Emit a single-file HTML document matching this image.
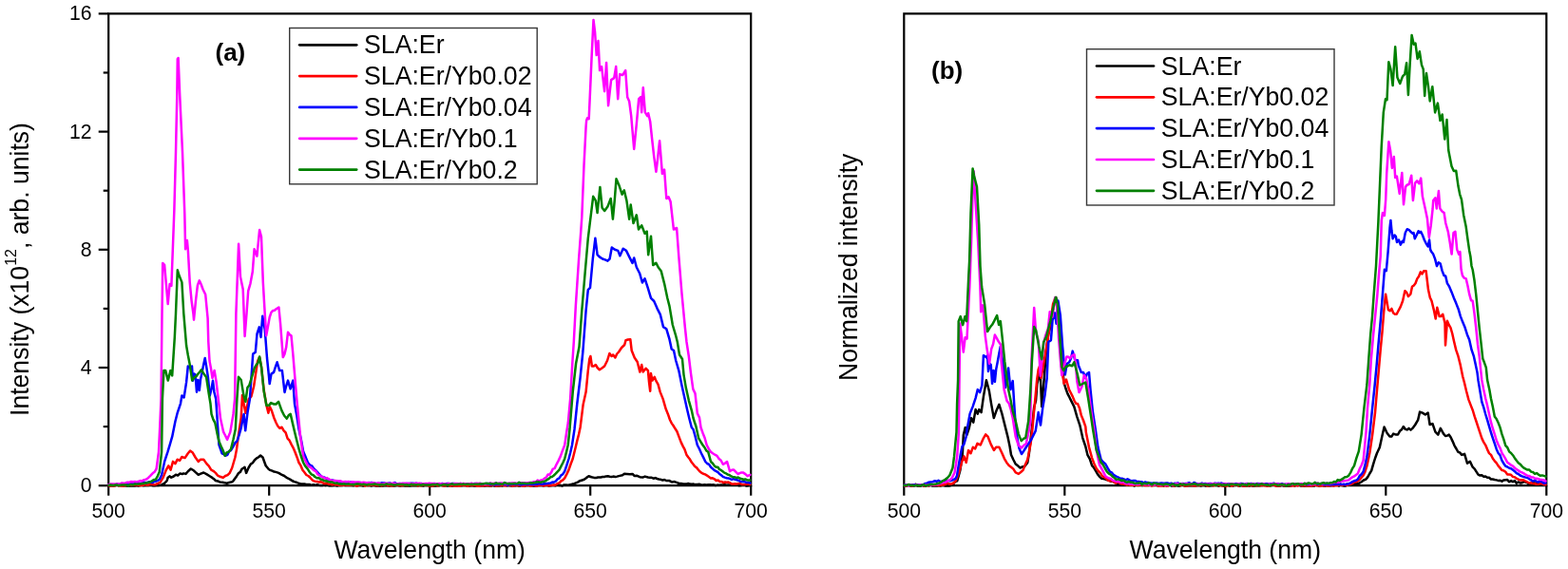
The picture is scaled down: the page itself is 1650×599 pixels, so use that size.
<!DOCTYPE html>
<html><head><meta charset="utf-8"><title>Spectra</title>
<style>
html,body{margin:0;padding:0;background:#fff;}
body{width:1650px;height:599px;overflow:hidden;}
svg{display:block;}
text{font-family:"Liberation Sans", Arial, sans-serif;fill:#000;}
.tl{font-size:21.2px;}
.at{font-size:26.6px;}
.sup{font-size:16px;}
.lt{font-size:26.7px;}
.pl{font-size:26px;font-weight:bold;}
.ax{fill:none;stroke:#000;stroke-width:2.2;stroke-linecap:butt;stroke-linejoin:miter;}
.c{fill:none;stroke-width:2.5;stroke-linejoin:round;stroke-linecap:round;}
.lg{fill:none;stroke-width:2.7;stroke-linecap:round;}
</style></head>
<body>
<svg width="1650" height="599" viewBox="0 0 1650 599">
<path class="ax" d="M114.2,511.2 H790.2 V14.4 H114.2 Z"/>
<path class="ax" d="M114.2,511.2 V521.7"/>
<text class="tl" transform="translate(114.2,545.3) scale(1,1.04)" text-anchor="middle">500</text>
<path class="ax" d="M283.2,511.2 V521.7"/>
<text class="tl" transform="translate(283.2,545.3) scale(1,1.04)" text-anchor="middle">550</text>
<path class="ax" d="M452.2,511.2 V521.7"/>
<text class="tl" transform="translate(452.2,545.3) scale(1,1.04)" text-anchor="middle">600</text>
<path class="ax" d="M621.2,511.2 V521.7"/>
<text class="tl" transform="translate(621.2,545.3) scale(1,1.04)" text-anchor="middle">650</text>
<path class="ax" d="M790.2,511.2 V521.7"/>
<text class="tl" transform="translate(790.2,545.3) scale(1,1.04)" text-anchor="middle">700</text>
<path class="ax" d="M103.7,511.2 H114.2"/>
<text class="tl" transform="translate(96.6,518.2) scale(1,1.04)" text-anchor="end">0</text>
<path class="ax" d="M108.7,449.1 H114.2"/>
<path class="ax" d="M103.7,387.0 H114.2"/>
<text class="tl" transform="translate(96.6,394.0) scale(1,1.04)" text-anchor="end">4</text>
<path class="ax" d="M108.7,324.9 H114.2"/>
<path class="ax" d="M103.7,262.8 H114.2"/>
<text class="tl" transform="translate(96.6,269.8) scale(1,1.04)" text-anchor="end">8</text>
<path class="ax" d="M108.7,200.7 H114.2"/>
<path class="ax" d="M103.7,138.6 H114.2"/>
<text class="tl" transform="translate(96.6,145.6) scale(1,1.04)" text-anchor="end">12</text>
<path class="ax" d="M108.7,76.5 H114.2"/>
<path class="ax" d="M103.7,14.4 H114.2"/>
<text class="tl" transform="translate(96.6,21.4) scale(1,1.04)" text-anchor="end">16</text>
<text class="at" transform="translate(452.2,587.6) scale(1,1.04)" text-anchor="middle">Wavelength (nm)</text>
<path class="ax" d="M951.3,511.2 H1627.3 V14.4 H951.3 Z"/>
<path class="ax" d="M951.3,511.2 V521.7"/>
<text class="tl" transform="translate(951.3,545.3) scale(1,1.04)" text-anchor="middle">500</text>
<path class="ax" d="M1120.3,511.2 V521.7"/>
<text class="tl" transform="translate(1120.3,545.3) scale(1,1.04)" text-anchor="middle">550</text>
<path class="ax" d="M1289.3,511.2 V521.7"/>
<text class="tl" transform="translate(1289.3,545.3) scale(1,1.04)" text-anchor="middle">600</text>
<path class="ax" d="M1458.3,511.2 V521.7"/>
<text class="tl" transform="translate(1458.3,545.3) scale(1,1.04)" text-anchor="middle">650</text>
<path class="ax" d="M1627.3,511.2 V521.7"/>
<text class="tl" transform="translate(1627.3,545.3) scale(1,1.04)" text-anchor="middle">700</text>
<text class="at" transform="translate(1289.3,587.6) scale(1,1.04)" text-anchor="middle">Wavelength (nm)</text>
<path class="c" stroke="#000" d="M114.2,511.2 L115.9,511.0 L117.7,511.3 L119.4,511.2 L121.2,511.1 L122.9,510.6 L124.6,510.9 L126.4,511.0 L128.1,510.7 L129.9,511.2 L131.6,511.0 L133.3,511.5 L135.1,511.5 L136.8,511.4 L138.5,511.4 L140.3,511.5 L142.0,511.4 L143.8,511.1 L145.5,511.4 L147.2,511.1 L149.0,510.5 L150.7,511.2 L152.5,511.0 L154.2,510.8 L155.9,511.1 L157.7,510.8 L159.4,510.8 L161.2,511.2 L162.9,511.2 L164.7,510.8 L166.5,511.0 L168.4,510.7 L170.2,510.4 L173.3,508.6 L175.7,506.0 L176.7,502.7 L178.7,501.4 L180.2,502.7 L182.7,501.5 L185.0,499.8 L187.2,500.5 L189.5,498.4 L191.7,499.1 L193.2,498.4 L195.5,498.9 L197.8,496.2 L200.8,493.5 L203.8,495.3 L206.0,497.4 L208.7,499.8 L211.3,498.6 L214.3,497.5 L217.3,499.1 L220.3,501.0 L223.3,502.9 L225.5,504.6 L226.9,506.0 L229.2,506.4 L231.6,507.6 L234.0,507.7 L236.4,508.2 L238.8,508.7 L241.1,508.0 L244.2,507.3 L245.8,505.8 L247.4,503.5 L248.9,501.4 L251.1,498.0 L252.9,496.9 L254.3,494.0 L257.5,491.8 L259.1,497.9 L261.5,492.5 L263.8,488.6 L265.9,487.3 L268.0,484.3 L270.1,482.4 L272.1,481.2 L274.1,479.5 L276.5,481.5 L279.7,490.2 L282.8,494.0 L284.2,494.8 L286.4,495.7 L288.3,496.5 L290.2,496.9 L293.2,497.9 L296.2,499.6 L299.2,501.0 L302.2,503.2 L305.2,504.6 L307.3,506.0 L309.6,507.1 L312.0,507.8 L314.1,508.6 L316.2,509.2 L318.3,509.4 L320.3,509.5 L322.2,510.0 L324.2,510.1 L326.2,510.1 L328.1,510.8 L330.0,510.2 L331.8,510.8 L333.7,510.1 L335.6,510.7 L337.4,511.0 L339.1,511.0 L340.9,510.6 L342.6,511.0 L344.4,510.4 L346.1,511.2 L347.9,511.1 L349.6,511.3 L351.4,511.1 L353.1,511.1 L354.8,511.4 L356.5,511.1 L358.2,511.1 L359.9,511.1 L361.6,510.5 L363.4,511.1 L365.1,511.1 L366.8,511.1 L368.5,510.7 L370.2,511.0 L371.9,511.3 L373.6,510.6 L375.3,511.5 L377.0,511.1 L378.7,511.1 L380.4,511.1 L382.1,511.5 L383.9,510.8 L385.6,510.7 L387.3,511.1 L389.0,510.8 L390.7,511.5 L392.4,511.1 L394.1,511.1 L395.8,511.5 L397.5,511.5 L399.2,511.3 L400.9,511.5 L402.6,511.5 L404.4,511.2 L406.1,511.3 L407.8,511.1 L409.5,511.5 L411.2,511.3 L412.9,511.2 L414.6,511.4 L416.3,511.3 L418.0,510.8 L419.7,511.3 L421.4,511.5 L423.1,511.1 L424.8,511.2 L426.5,511.5 L428.2,511.3 L429.9,511.5 L431.6,511.4 L433.4,511.3 L435.1,511.2 L436.8,511.2 L438.5,511.0 L440.2,511.3 L441.9,511.1 L443.6,511.1 L445.3,511.4 L447.0,511.1 L448.7,510.9 L450.4,510.9 L452.1,511.0 L453.8,511.5 L455.5,511.5 L457.2,511.4 L458.9,511.4 L460.6,511.1 L462.3,511.2 L464.0,510.5 L465.7,510.9 L467.4,511.2 L469.1,510.9 L470.9,511.5 L472.6,511.0 L474.3,511.3 L476.0,511.5 L477.7,511.1 L479.4,510.9 L481.1,511.2 L482.8,510.7 L484.5,511.2 L486.2,511.3 L487.9,510.9 L489.6,511.0 L491.3,511.4 L493.0,511.3 L494.7,511.4 L496.4,511.0 L498.1,511.4 L499.8,511.3 L501.5,511.4 L503.2,511.0 L504.9,511.5 L506.6,511.3 L508.4,511.3 L510.1,511.5 L511.8,511.3 L513.5,511.1 L515.2,511.5 L516.9,511.5 L518.6,510.9 L520.3,511.5 L522.0,511.5 L523.7,511.5 L525.4,511.5 L527.1,511.1 L528.8,511.4 L530.5,510.6 L532.2,510.7 L533.9,511.3 L535.6,510.9 L537.3,511.2 L539.0,511.5 L540.7,511.0 L542.4,511.3 L544.1,510.9 L545.9,511.5 L547.6,511.4 L549.3,510.9 L551.0,511.2 L552.7,511.4 L554.4,510.9 L556.1,510.9 L557.8,511.3 L559.5,511.1 L561.2,511.5 L562.9,511.2 L564.7,511.5 L566.5,510.9 L568.3,510.8 L570.0,511.0 L571.8,511.4 L573.6,510.8 L575.4,510.9 L577.2,511.4 L579.0,511.3 L580.8,511.0 L582.5,510.7 L584.3,511.3 L586.1,510.4 L587.9,510.9 L589.8,510.8 L591.7,511.5 L593.6,510.4 L595.5,510.6 L597.9,510.8 L600.3,510.1 L602.2,509.6 L604.2,509.2 L606.1,508.4 L608.0,507.6 L609.9,506.3 L611.9,505.7 L614.7,504.8 L617.2,502.9 L619.5,501.3 L622.4,502.3 L625.3,502.9 L627.2,503.1 L629.1,502.5 L632.0,502.6 L633.9,502.0 L635.9,502.0 L637.8,501.4 L639.7,501.2 L641.6,501.7 L643.5,502.0 L645.4,501.6 L647.4,502.0 L649.3,501.6 L652.2,500.9 L655.0,500.2 L657.0,498.8 L659.8,498.9 L662.7,499.2 L665.6,498.9 L667.5,500.9 L670.4,500.8 L673.3,502.2 L676.2,502.6 L678.7,501.6 L681.9,502.5 L683.9,502.8 L685.8,502.8 L687.7,503.7 L689.6,503.1 L691.5,504.0 L693.4,504.5 L695.4,504.8 L697.3,505.6 L699.2,505.0 L701.1,506.0 L704.0,505.9 L706.9,507.4 L709.8,507.1 L712.6,508.1 L714.5,509.0 L716.5,508.9 L718.4,509.3 L720.3,509.5 L722.2,509.6 L724.2,509.0 L726.1,509.6 L728.0,509.8 L729.9,509.6 L731.8,510.1 L733.7,510.0 L735.7,509.7 L737.6,510.3 L739.5,510.4 L741.5,510.3 L743.4,510.4 L745.3,510.3 L747.2,510.3 L749.1,510.6 L751.1,510.3 L753.0,511.0 L754.9,510.6 L756.8,510.8 L758.7,510.5 L760.7,510.4 L762.6,510.1 L764.5,510.7 L766.4,510.4 L768.3,510.4 L770.3,510.8 L772.2,510.7 L774.1,510.7 L776.0,510.5 L777.9,511.3 L779.8,511.0 L781.8,510.4 L783.7,510.6 L785.6,511.5 L787.5,511.3 L789.4,510.9"/>
<path class="c" stroke="#ff0000" d="M114.2,511.1 L115.9,511.5 L117.7,511.1 L119.4,511.5 L121.2,511.2 L122.9,510.5 L124.7,511.2 L126.4,511.2 L128.2,511.5 L129.9,511.5 L131.7,510.9 L133.4,510.9 L135.2,510.4 L136.9,510.5 L138.7,510.9 L140.4,510.4 L142.2,510.5 L143.9,510.6 L145.7,510.7 L147.4,511.0 L149.2,511.1 L150.9,510.8 L152.7,509.6 L154.4,510.6 L156.3,510.5 L158.2,509.8 L160.1,509.9 L162.0,510.4 L163.9,510.0 L166.2,508.9 L168.6,507.8 L171.8,502.3 L174.9,494.6 L177.3,490.3 L179.6,494.6 L182.0,485.9 L184.4,488.1 L186.7,483.7 L189.1,484.8 L191.4,481.0 L194.6,482.1 L197.8,477.3 L200.1,474.6 L202.5,476.2 L205.6,481.5 L208.8,485.9 L211.1,483.7 L214.3,483.7 L217.4,488.1 L219.8,490.7 L222.2,494.6 L224.5,495.8 L226.9,497.9 L229.2,500.7 L231.6,501.8 L234.8,502.9 L237.1,501.0 L239.5,500.1 L241.8,497.8 L244.2,492.5 L247.4,481.5 L249.0,473.0 L250.3,462.8 L251.9,451.6 L253.7,440.0 L255.0,416.1 L256.4,424.1 L258.4,434.8 L261.7,420.1 L264.4,417.4 L267.1,406.8 L269.1,393.4 L271.1,380.0 L273.1,376.0 L275.1,386.7 L277.7,410.8 L280.4,426.8 L282.4,434.8 L283.8,428.1 L285.8,432.1 L288.4,440.0 L290.4,444.8 L292.3,448.5 L294.4,450.8 L296.5,449.7 L298.6,453.3 L300.6,455.4 L302.6,461.7 L304.5,463.5 L306.5,467.6 L308.5,471.3 L310.5,476.0 L312.5,481.2 L314.5,487.0 L316.5,490.2 L318.4,494.8 L320.4,497.3 L322.4,500.0 L324.4,501.0 L326.4,502.8 L328.3,505.0 L330.3,506.4 L332.1,506.8 L333.8,507.0 L335.6,507.5 L337.4,507.3 L339.1,507.8 L340.9,509.0 L342.7,508.7 L344.4,509.1 L346.2,509.7 L347.9,509.6 L349.6,510.4 L351.4,509.9 L353.1,510.4 L354.8,510.0 L356.6,510.8 L358.3,510.9 L360.0,510.5 L361.7,510.8 L363.5,510.4 L365.2,510.7 L366.9,510.6 L368.7,510.7 L370.4,510.5 L372.1,510.4 L373.8,511.0 L375.6,511.5 L377.3,510.9 L379.0,510.2 L380.8,510.7 L382.5,510.3 L384.2,511.5 L386.0,510.8 L387.7,510.9 L389.4,510.6 L391.2,510.7 L392.9,510.6 L394.6,510.3 L396.3,511.1 L398.1,511.2 L399.8,510.5 L401.5,511.4 L403.3,510.5 L405.0,510.6 L406.7,510.0 L408.5,511.3 L410.2,510.8 L411.9,511.2 L413.7,511.3 L415.4,510.8 L417.1,510.6 L418.8,510.7 L420.6,511.1 L422.3,510.7 L424.0,511.0 L425.8,510.5 L427.5,511.1 L429.2,511.1 L431.0,510.1 L432.7,510.8 L434.4,510.5 L436.2,510.3 L437.9,510.5 L439.6,511.4 L441.3,510.6 L443.1,511.4 L444.8,510.5 L446.5,510.5 L448.3,510.8 L450.0,510.9 L451.7,511.5 L453.4,511.0 L455.2,511.5 L456.9,510.9 L458.6,510.4 L460.3,511.2 L462.0,510.9 L463.8,510.6 L465.5,511.2 L467.2,511.3 L468.9,511.2 L470.6,510.1 L472.3,511.0 L474.1,511.5 L475.8,510.6 L477.5,511.5 L479.2,511.2 L480.9,511.4 L482.7,511.4 L484.4,511.5 L486.1,510.5 L487.8,511.0 L489.5,510.8 L491.2,511.4 L493.0,511.4 L494.7,510.8 L496.4,511.1 L498.1,511.0 L499.8,510.6 L501.6,511.5 L503.3,511.4 L505.0,511.4 L506.7,511.1 L508.4,511.3 L510.2,510.8 L511.9,511.1 L513.6,511.1 L515.3,511.2 L517.0,511.2 L518.8,510.5 L520.5,510.9 L522.2,511.5 L523.9,511.3 L525.6,511.3 L527.3,511.1 L529.1,510.4 L530.8,511.3 L532.5,511.2 L534.2,510.6 L535.9,511.0 L537.7,510.8 L539.4,511.5 L541.1,511.0 L542.8,511.1 L544.5,510.8 L546.2,511.1 L548.0,510.8 L549.7,511.5 L551.4,511.5 L553.1,511.1 L554.8,511.1 L556.6,510.7 L558.3,511.5 L560.0,511.2 L561.8,510.6 L563.6,511.3 L565.4,511.4 L567.1,510.9 L568.9,510.7 L570.7,510.6 L572.5,511.5 L574.3,510.5 L576.0,510.8 L577.8,511.3 L579.6,511.0 L581.4,510.7 L583.2,510.8 L585.0,510.2 L586.7,509.0 L588.5,508.5 L590.4,506.4 L592.3,505.3 L594.2,503.4 L596.4,499.1 L598.5,494.6 L600.6,488.5 L602.7,483.0 L605.6,471.3 L607.4,463.6 L609.1,457.1 L610.6,450.0 L613.6,426.1 L616.6,412.6 L618.8,390.1 L620.3,378.0 L621.4,375.0 L622.9,385.5 L624.8,385.5 L626.8,384.0 L628.6,387.0 L630.9,389.3 L633.1,387.8 L636.1,385.5 L639.1,379.5 L641.4,372.0 L643.6,375.0 L645.1,373.5 L647.4,376.5 L649.2,372.5 L651.1,370.5 L654.1,366.0 L657.2,363.0 L658.5,358.2 L660.7,357.5 L663.3,357.2 L664.7,369.0 L667.7,376.5 L670.7,381.0 L673.4,391.6 L675.2,384.0 L676.7,391.6 L679.7,387.8 L681.9,390.1 L683.0,402.1 L684.2,411.8 L684.9,393.1 L686.5,400.6 L688.7,396.8 L690.2,400.6 L692.5,404.6 L694.7,412.6 L697.7,420.1 L700.7,430.6 L702.9,435.9 L705.0,442.0 L706.8,445.6 L708.5,448.0 L710.5,451.3 L712.4,454.2 L714.5,459.9 L716.7,465.6 L718.6,469.6 L720.5,473.2 L722.4,478.7 L724.2,481.3 L726.0,483.6 L727.7,486.5 L729.5,488.8 L731.2,491.0 L732.9,492.1 L734.6,494.2 L736.3,496.3 L738.0,497.6 L740.0,498.8 L742.0,499.4 L744.0,500.6 L746.0,502.0 L748.0,503.4 L749.9,503.3 L751.8,504.3 L753.7,506.0 L755.6,505.5 L757.5,507.1 L759.4,507.0 L761.2,508.1 L763.0,507.5 L764.7,507.7 L766.5,507.5 L768.3,508.4 L770.0,509.5 L771.8,509.5 L773.6,509.3 L775.3,509.4 L777.1,509.1 L778.8,509.0 L780.6,509.9 L782.3,509.9 L784.1,509.9 L785.8,509.6 L787.6,509.8 L789.3,510.0"/>
<path class="c" stroke="#0000ff" d="M114.5,510.4 L116.2,510.4 L117.9,510.8 L119.6,510.5 L121.3,510.1 L123.0,509.5 L124.7,510.0 L126.4,509.9 L128.1,509.5 L129.8,509.8 L131.5,509.7 L133.2,509.6 L134.9,509.6 L136.6,509.3 L138.3,509.1 L140.0,509.4 L142.0,509.0 L144.0,508.2 L146.0,508.8 L148.0,508.9 L150.0,508.3 L151.8,507.7 L153.7,508.3 L155.6,507.7 L157.4,507.2 L160.6,508.0 L162.4,507.0 L164.2,506.6 L166.0,505.9 L167.8,504.8 L170.1,500.0 L173.3,485.3 L176.5,475.6 L178.9,467.6 L181.2,459.7 L184.4,443.8 L186.8,434.3 L190.0,424.8 L191.4,416.4 L193.6,418.5 L196.1,402.4 L197.8,385.5 L199.7,386.5 L201.1,387.5 L202.0,385.5 L202.9,400.8 L204.3,393.4 L205.6,394.4 L207.0,412.7 L208.4,399.9 L209.8,410.9 L211.1,398.9 L212.5,392.5 L213.9,385.2 L215.7,376.9 L217.1,385.2 L218.9,397.1 L220.8,416.4 L222.6,409.0 L224.0,400.8 L225.4,412.7 L227.2,420.0 L230.4,468.0 L233.6,477.3 L235.6,478.2 L237.5,479.7 L239.4,478.8 L241.2,474.8 L243.1,474.0 L245.2,470.3 L247.3,466.3 L249.4,464.4 L251.4,458.6 L253.4,451.7 L256.6,435.9 L258.2,453.3 L260.5,434.3 L262.9,420.0 L266.2,372.6 L268.8,370.8 L270.5,351.4 L272.8,344.4 L274.5,354.9 L276.3,332.7 L278.7,346.7 L281.0,377.0 L282.9,395.4 L283.7,404.1 L285.5,393.6 L288.1,391.9 L289.9,386.2 L291.6,381.3 L294.2,390.1 L296.9,390.1 L299.5,412.9 L301.2,406.3 L303.0,400.6 L305.6,409.4 L308.3,400.6 L310.0,425.0 L312.2,436.9 L314.5,451.7 L316.9,463.0 L319.2,475.6 L321.6,481.1 L324.0,487.0 L326.1,489.6 L328.2,490.4 L330.3,493.5 L332.3,495.2 L334.3,497.3 L336.3,499.7 L338.3,501.6 L340.3,502.3 L342.2,502.9 L344.2,504.3 L346.2,504.8 L347.9,505.7 L349.6,505.4 L351.4,505.9 L353.1,506.4 L354.8,506.3 L356.6,507.4 L358.3,507.6 L360.0,508.0 L361.7,508.0 L363.5,507.7 L365.2,507.9 L366.9,508.6 L368.7,507.6 L370.4,507.7 L372.1,508.0 L373.8,507.9 L375.6,508.8 L377.3,508.8 L379.0,507.9 L380.8,508.5 L382.5,508.5 L384.2,508.2 L386.0,508.5 L387.7,508.1 L389.4,508.3 L391.2,507.9 L392.9,508.4 L394.6,508.7 L396.3,509.1 L398.1,508.6 L399.8,509.0 L401.5,508.3 L403.3,508.5 L405.0,508.6 L406.7,509.4 L408.5,508.8 L410.2,508.5 L411.9,509.2 L413.7,508.9 L415.4,508.0 L417.1,509.0 L418.8,509.2 L420.6,509.0 L422.3,509.3 L424.0,509.1 L425.8,509.4 L427.5,508.9 L429.2,509.1 L431.0,509.1 L432.7,508.8 L434.4,508.7 L436.2,509.0 L437.9,508.8 L439.6,508.9 L441.3,509.4 L443.1,509.0 L444.8,509.5 L446.5,509.7 L448.3,509.8 L450.0,509.4 L451.7,509.2 L453.4,509.3 L455.2,509.4 L456.9,509.1 L458.6,509.4 L460.3,509.6 L462.0,509.8 L463.8,509.8 L465.5,508.9 L467.2,509.4 L468.9,509.4 L470.6,508.9 L472.3,509.0 L474.1,509.5 L475.8,509.0 L477.5,509.1 L479.2,509.2 L480.9,509.8 L482.7,509.7 L484.4,509.3 L486.1,509.6 L487.8,509.2 L489.5,509.5 L491.2,509.6 L493.0,509.6 L494.7,509.7 L496.4,509.8 L498.1,509.5 L499.8,509.0 L501.6,509.7 L503.3,509.5 L505.0,509.6 L506.7,509.9 L508.4,509.8 L510.2,509.7 L511.9,509.8 L513.6,509.0 L515.3,509.9 L517.0,510.0 L518.8,509.8 L520.5,510.2 L522.2,509.7 L523.9,509.9 L525.6,510.0 L527.3,509.8 L529.1,509.7 L530.8,510.1 L532.5,509.7 L534.2,510.5 L535.9,510.1 L537.7,510.1 L539.4,509.6 L541.1,509.6 L542.8,509.9 L544.5,509.7 L546.2,509.8 L548.0,510.2 L549.7,510.1 L551.4,509.6 L553.1,509.8 L554.8,510.1 L556.6,509.7 L558.3,509.6 L560.0,510.0 L561.8,510.1 L563.5,509.5 L565.3,509.7 L567.1,509.1 L568.9,509.5 L570.7,509.8 L572.4,509.2 L574.2,509.3 L575.9,509.0 L577.6,508.7 L579.4,508.6 L581.1,507.6 L582.8,507.7 L584.7,506.7 L586.6,504.4 L588.5,503.4 L590.4,500.4 L592.3,499.2 L594.2,496.1 L596.4,489.7 L598.5,483.0 L600.2,476.5 L602.0,468.5 L604.5,452.0 L607.3,425.0 L610.6,397.6 L613.4,370.0 L616.6,326.8 L618.8,305.1 L621.0,302.9 L623.8,272.5 L626.4,250.8 L628.6,268.2 L630.8,270.4 L634.0,272.5 L637.3,273.6 L639.4,274.7 L641.6,272.5 L643.8,260.6 L647.0,262.8 L650.3,263.9 L652.4,269.3 L655.7,261.7 L659.0,263.9 L662.2,270.4 L665.5,276.9 L667.2,271.5 L669.8,281.2 L673.1,287.7 L675.9,297.5 L678.5,293.2 L681.7,302.9 L685.0,313.8 L688.2,317.0 L691.5,324.6 L694.8,331.1 L698.0,344.1 L701.3,346.3 L704.5,357.2 L706.7,367.5 L709.0,369.0 L711.2,379.5 L714.3,390.1 L717.3,405.1 L720.3,418.6 L723.3,432.1 L725.2,440.0 L727.8,450.0 L729.5,452.0 L731.6,459.4 L733.8,468.5 L735.9,472.5 L738.0,477.2 L740.1,481.4 L742.3,486.0 L744.2,488.0 L746.1,488.9 L748.0,491.8 L749.9,493.4 L751.8,495.2 L753.7,496.1 L755.5,497.1 L757.2,499.0 L759.0,500.3 L760.8,501.9 L762.7,502.6 L764.6,503.2 L766.5,503.4 L768.3,504.2 L770.0,504.9 L771.8,504.2 L773.6,504.9 L775.3,505.3 L777.0,505.7 L778.8,506.7 L780.5,507.0 L782.2,507.0 L784.0,507.3 L785.8,508.0 L787.5,507.9 L789.3,508.5"/>
<path class="c" stroke="#ff00ff" d="M114.5,509.9 L116.2,509.6 L117.9,509.6 L119.7,509.5 L121.4,509.7 L123.1,509.4 L124.8,509.5 L126.6,509.3 L128.3,508.4 L130.0,508.7 L132.0,508.5 L134.0,507.7 L136.0,507.8 L138.0,507.0 L140.0,507.2 L141.9,506.9 L143.8,507.4 L145.7,506.8 L147.6,506.1 L149.5,506.4 L151.6,505.1 L153.8,504.6 L155.9,503.2 L158.2,500.9 L160.6,498.3 L162.6,496.8 L164.6,493.5 L167.0,475.6 L168.5,443.8 L169.5,420.0 L170.5,330.0 L171.2,277.0 L173.1,278.8 L174.9,299.3 L176.7,320.1 L178.6,299.0 L180.4,300.8 L183.4,220.0 L185.0,160.0 L186.3,100.0 L186.8,62.0 L187.6,61.0 L189.2,100.0 L192.0,160.0 L194.3,225.0 L195.1,262.2 L196.9,253.0 L197.9,264.0 L199.7,297.0 L201.6,316.8 L203.4,330.0 L204.0,336.7 L206.1,315.5 L207.9,300.5 L209.8,295.3 L211.7,299.5 L213.5,304.5 L216.2,310.0 L218.6,335.0 L219.3,360.0 L220.5,380.0 L222.0,388.0 L223.5,398.0 L225.6,390.0 L227.6,402.0 L230.3,425.0 L232.0,440.6 L235.2,454.9 L237.1,458.5 L239.1,462.8 L242.3,454.9 L245.5,435.9 L247.1,420.0 L248.4,330.0 L251.1,256.7 L253.0,291.6 L255.7,304.5 L257.6,354.0 L259.5,330.0 L261.2,306.3 L263.5,298.3 L265.8,286.1 L267.6,262.2 L270.4,269.6 L273.1,242.0 L275.0,249.4 L276.8,297.0 L278.7,330.0 L280.2,353.3 L281.9,344.3 L283.7,334.0 L285.4,328.8 L287.2,327.0 L288.9,326.8 L290.7,325.3 L293.4,323.5 L295.1,341.0 L297.8,376.1 L299.5,372.6 L301.2,365.4 L303.0,349.8 L304.8,352.3 L306.5,353.3 L308.3,372.6 L310.9,404.1 L312.7,425.0 L314.4,442.4 L316.1,459.7 L319.2,480.5 L321.6,485.5 L324.0,490.2 L326.1,491.6 L328.2,493.0 L330.3,495.1 L332.3,496.0 L334.3,499.4 L336.3,500.4 L338.3,501.6 L340.3,502.5 L342.2,503.7 L344.2,503.1 L346.2,504.8 L347.9,505.3 L349.6,506.0 L351.4,506.0 L353.1,506.1 L354.8,506.2 L356.6,506.6 L358.3,506.3 L360.0,507.2 L361.7,507.3 L363.5,507.0 L365.2,507.2 L367.0,507.0 L368.7,508.4 L370.4,507.3 L372.2,507.5 L373.9,507.8 L375.7,507.6 L377.4,507.5 L379.1,508.2 L380.9,508.0 L382.6,507.8 L384.3,507.9 L386.1,508.5 L387.8,508.3 L389.6,508.5 L391.3,508.6 L393.0,508.3 L394.8,508.9 L396.5,508.8 L398.3,508.5 L400.0,509.1 L401.7,509.5 L403.4,509.4 L405.2,508.9 L406.9,508.8 L408.6,509.3 L410.3,509.0 L412.1,509.1 L413.8,508.8 L415.5,509.1 L417.2,509.8 L419.0,509.3 L420.7,509.2 L422.4,509.0 L424.1,509.1 L425.9,508.8 L427.6,509.0 L429.3,509.1 L431.0,509.0 L432.8,509.1 L434.5,509.5 L436.2,509.1 L437.9,508.7 L439.7,509.4 L441.4,508.7 L443.1,509.7 L444.8,509.3 L446.6,509.3 L448.3,509.1 L450.0,509.3 L451.7,508.8 L453.4,509.1 L455.2,509.0 L456.9,509.7 L458.6,509.1 L460.3,509.6 L462.1,509.0 L463.8,509.4 L465.5,509.4 L467.2,509.2 L469.0,509.7 L470.7,509.5 L472.4,509.1 L474.1,509.5 L475.9,509.7 L477.6,509.3 L479.3,508.9 L481.0,509.0 L482.8,509.6 L484.5,508.8 L486.2,509.4 L487.9,509.0 L489.7,509.2 L491.4,509.4 L493.1,509.3 L494.8,509.1 L496.6,508.8 L498.3,509.6 L500.0,509.3 L501.8,508.7 L503.5,509.1 L505.3,508.8 L507.1,509.4 L508.8,509.4 L510.6,509.7 L512.4,509.2 L514.1,509.3 L515.9,508.5 L517.6,508.9 L519.4,509.1 L521.2,508.5 L522.9,508.9 L524.7,508.7 L526.5,508.6 L528.2,508.5 L530.0,508.9 L531.8,508.8 L533.5,509.2 L535.3,508.7 L537.1,508.8 L538.8,508.6 L540.6,508.4 L542.4,508.6 L544.1,508.9 L545.9,508.5 L547.6,508.2 L549.4,508.3 L551.2,508.6 L552.9,508.3 L554.7,508.4 L556.5,508.0 L558.2,507.9 L560.0,508.0 L561.9,507.2 L563.8,507.2 L565.7,505.6 L567.6,506.5 L569.5,505.4 L571.4,504.9 L573.1,503.5 L574.8,502.6 L576.5,499.6 L578.2,499.8 L579.9,497.6 L581.8,493.6 L583.7,493.1 L585.6,488.8 L587.8,484.6 L589.9,480.1 L592.0,474.2 L594.2,468.5 L596.3,454.2 L597.8,445.0 L600.1,420.1 L602.3,382.5 L603.8,360.0 L605.8,322.4 L609.1,272.5 L611.2,244.3 L612.3,228.5 L614.5,174.2 L616.6,133.0 L617.1,127.0 L618.1,124.2 L619.7,125.2 L621.1,94.2 L622.5,62.1 L624.5,21.0 L626.1,34.0 L627.7,58.1 L629.5,43.1 L631.1,74.1 L633.1,70.1 L636.1,96.2 L638.1,66.1 L640.1,111.2 L643.1,84.1 L646.2,82.1 L648.2,70.1 L650.2,104.2 L652.2,78.1 L655.2,79.1 L658.2,74.1 L660.2,102.2 L662.2,106.8 L664.2,122.2 L667.2,156.9 L669.8,130.8 L672.2,104.2 L674.2,102.2 L675.2,118.2 L676.8,92.2 L678.8,118.2 L681.2,122.2 L682.2,119.2 L684.2,128.0 L686.1,146.0 L688.2,164.6 L690.4,180.8 L692.2,166.2 L694.1,148.2 L696.9,182.9 L699.1,178.6 L701.3,209.0 L703.5,207.2 L705.6,212.2 L708.9,241.5 L712.1,240.0 L714.3,270.0 L717.5,309.4 L720.8,344.1 L722.5,360.0 L724.8,375.0 L727.0,393.1 L729.3,409.6 L731.5,414.1 L733.8,435.1 L736.0,439.6 L737.5,450.0 L739.5,455.7 L741.6,461.0 L743.7,468.5 L745.9,472.6 L748.0,475.7 L750.1,477.3 L752.3,478.7 L754.5,479.9 L756.6,483.0 L758.7,484.7 L760.8,488.8 L763.0,487.6 L765.1,486.0 L768.0,496.1 L770.1,494.8 L772.2,494.6 L774.4,496.8 L776.5,499.0 L778.4,498.2 L780.3,497.4 L782.2,497.6 L784.4,499.1 L786.5,501.2 L789.3,499.8"/>
<path class="c" stroke="#008000" d="M114.5,510.7 L116.2,510.6 L117.9,510.8 L119.6,511.0 L121.3,510.4 L123.0,510.4 L124.7,511.1 L126.4,510.8 L128.1,510.6 L129.8,510.6 L131.5,510.6 L133.2,510.5 L134.9,511.5 L136.6,510.1 L138.3,510.2 L140.0,510.5 L141.8,509.5 L143.5,509.7 L145.3,509.8 L147.1,509.4 L148.8,509.3 L150.6,509.0 L152.4,508.8 L154.1,508.3 L155.9,508.0 L157.9,507.5 L159.9,506.4 L161.8,504.9 L163.8,504.8 L165.8,501.3 L167.8,496.7 L170.1,475.6 L170.9,420.0 L172.4,390.1 L174.2,390.1 L176.8,400.6 L179.4,390.1 L181.2,395.4 L183.8,355.1 L185.0,330.0 L186.8,284.3 L188.5,290.0 L191.4,297.1 L193.3,330.0 L196.1,363.8 L197.8,373.8 L199.6,383.1 L202.2,400.6 L204.9,397.1 L206.7,395.9 L208.4,393.6 L210.2,391.5 L211.9,389.2 L214.5,393.6 L217.1,397.1 L219.8,414.7 L221.5,425.0 L222.5,435.9 L224.4,441.6 L226.4,445.4 L228.4,455.6 L230.4,464.4 L232.5,469.4 L234.6,474.0 L236.7,479.7 L238.8,476.1 L241.0,475.6 L243.1,472.4 L245.4,463.0 L247.8,451.7 L249.4,420.0 L251.0,396.7 L253.7,400.0 L256.4,416.1 L258.4,422.8 L260.4,408.1 L262.4,405.4 L265.7,394.7 L267.7,387.6 L269.7,384.0 L271.4,382.4 L273.1,375.4 L275.1,386.7 L277.7,412.1 L280.4,426.8 L283.1,426.8 L285.1,424.1 L288.4,425.5 L290.4,425.5 L293.1,422.8 L296.4,432.1 L299.1,437.5 L301.8,440.6 L303.8,437.1 L305.7,435.9 L307.7,444.6 L309.7,453.3 L312.1,463.0 L314.5,472.4 L316.9,480.5 L319.2,487.0 L321.3,490.8 L323.5,493.4 L325.6,496.7 L327.6,499.3 L329.6,500.1 L331.5,502.0 L333.5,503.2 L335.3,503.1 L337.1,504.5 L338.9,504.7 L340.8,505.9 L342.6,506.2 L344.4,506.8 L346.2,507.2 L347.9,507.5 L349.6,507.5 L351.4,508.4 L353.1,508.9 L354.8,508.5 L356.6,509.5 L358.3,509.4 L360.0,509.7 L361.7,509.3 L363.5,509.7 L365.2,509.7 L366.9,509.5 L368.7,510.0 L370.4,509.9 L372.1,510.3 L373.8,509.7 L375.6,509.5 L377.3,509.5 L379.0,509.7 L380.8,510.3 L382.5,509.8 L384.2,510.0 L386.0,510.6 L387.7,509.9 L389.4,509.9 L391.2,509.9 L392.9,509.7 L394.6,509.5 L396.3,510.1 L398.1,510.2 L399.8,510.5 L401.5,509.9 L403.3,510.2 L405.0,510.2 L406.7,509.4 L408.5,509.9 L410.2,510.0 L411.9,509.8 L413.7,510.5 L415.4,510.4 L417.1,510.3 L418.8,510.0 L420.6,510.0 L422.3,510.0 L424.0,510.0 L425.8,510.5 L427.5,510.3 L429.2,510.5 L431.0,510.8 L432.7,509.8 L434.4,510.4 L436.2,510.1 L437.9,510.5 L439.6,510.2 L441.3,510.2 L443.1,510.9 L444.8,510.1 L446.5,510.3 L448.3,510.4 L450.0,510.4 L451.7,510.5 L453.4,510.6 L455.2,510.0 L456.9,510.3 L458.6,510.3 L460.3,509.8 L462.0,510.5 L463.8,510.9 L465.5,510.4 L467.2,510.0 L468.9,510.3 L470.6,510.5 L472.3,510.4 L474.1,509.9 L475.8,509.4 L477.5,510.2 L479.2,510.0 L480.9,510.1 L482.7,509.8 L484.4,509.8 L486.1,509.9 L487.8,509.6 L489.5,510.0 L491.2,509.7 L493.0,509.8 L494.7,509.9 L496.4,509.7 L498.1,509.9 L499.8,509.8 L501.6,509.7 L503.3,509.7 L505.0,509.5 L506.7,509.5 L508.4,509.4 L510.2,509.1 L511.9,508.8 L513.6,509.2 L515.3,508.9 L517.0,509.3 L518.8,509.6 L520.5,509.2 L522.2,508.5 L523.9,509.3 L525.6,509.1 L527.3,509.5 L529.1,509.7 L530.8,508.1 L532.5,508.6 L534.2,509.3 L535.9,509.0 L537.7,509.3 L539.4,509.2 L541.1,508.9 L542.8,509.1 L544.5,509.2 L546.2,507.8 L548.0,509.1 L549.7,508.8 L551.4,508.7 L553.1,508.9 L554.8,508.9 L556.6,508.9 L558.3,508.3 L560.0,508.5 L561.8,508.3 L563.5,508.0 L565.3,507.2 L567.1,507.4 L568.9,507.8 L570.7,507.1 L572.4,506.9 L574.2,506.3 L575.9,504.8 L577.6,504.0 L579.4,502.1 L581.1,501.9 L582.8,500.5 L584.7,498.7 L586.6,496.6 L588.5,494.6 L590.4,490.9 L592.3,487.2 L594.2,483.0 L596.0,475.9 L597.7,468.5 L599.5,452.0 L602.8,412.0 L606.1,382.5 L609.5,365.0 L612.3,326.8 L615.6,287.7 L618.8,250.8 L621.0,232.8 L624.2,206.8 L626.8,211.1 L628.6,224.1 L631.4,197.0 L633.6,218.7 L636.2,222.0 L639.4,217.6 L642.7,209.0 L644.9,230.7 L646.7,211.6 L648.5,188.3 L651.4,194.9 L654.6,204.6 L656.8,200.3 L659.4,211.1 L662.2,230.7 L663.7,215.5 L666.5,235.0 L669.8,226.3 L672.0,241.5 L675.2,237.2 L678.5,245.8 L680.7,243.7 L682.2,268.2 L685.0,248.7 L687.2,279.1 L690.4,276.9 L692.6,281.2 L695.8,285.6 L699.1,298.6 L702.3,313.8 L704.5,322.4 L707.8,342.0 L711.0,352.8 L712.8,360.0 L715.0,373.5 L718.0,378.0 L719.5,394.6 L721.8,408.1 L724.8,421.6 L727.8,432.1 L729.5,440.0 L730.8,444.1 L732.3,448.5 L735.2,461.4 L737.4,465.1 L739.5,468.5 L741.4,471.0 L743.3,474.4 L745.2,475.7 L748.0,486.0 L749.9,487.7 L751.8,490.4 L753.7,491.8 L755.4,491.7 L757.1,494.2 L758.8,494.9 L760.5,496.2 L762.2,497.6 L763.9,498.3 L765.6,499.6 L767.4,499.9 L769.1,501.3 L770.8,501.9 L772.8,502.3 L774.8,502.9 L776.8,502.6 L778.8,503.8 L780.8,504.2 L782.5,505.0 L784.2,504.4 L785.9,505.2 L787.6,505.6 L789.3,505.6"/>
<path class="c" stroke="#000" d="M951.3,511.4 L953.0,511.5 L954.8,511.0 L956.5,510.3 L958.3,511.5 L960.0,511.2 L961.7,511.2 L963.5,509.7 L965.2,511.5 L967.0,511.3 L968.7,511.5 L970.4,510.7 L972.2,511.5 L973.9,511.5 L975.6,510.8 L977.4,511.3 L979.1,510.5 L980.9,511.5 L982.6,511.5 L984.3,511.5 L986.1,511.5 L987.8,511.0 L989.6,511.5 L991.3,511.1 L993.0,511.1 L994.8,511.5 L996.5,511.5 L998.3,511.5 L1000.0,511.2 L1001.8,510.1 L1003.6,508.8 L1005.5,506.7 L1007.3,506.2 L1010.4,494.9 L1012.8,478.8 L1013.8,458.1 L1015.8,449.9 L1017.3,458.1 L1019.8,450.6 L1022.1,440.1 L1024.3,444.6 L1026.6,431.1 L1028.8,435.6 L1030.3,431.1 L1032.6,434.1 L1034.9,417.6 L1037.9,400.3 L1040.9,411.6 L1043.1,425.1 L1045.8,440.1 L1048.4,432.6 L1051.4,425.8 L1054.4,435.6 L1057.4,447.6 L1060.4,459.6 L1062.6,470.0 L1064.0,478.8 L1066.3,483.7 L1068.7,488.5 L1071.1,490.3 L1073.5,492.5 L1075.8,491.5 L1078.2,491.0 L1081.3,486.9 L1082.9,477.3 L1084.5,462.9 L1086.0,450.0 L1088.2,428.5 L1090.0,422.0 L1091.4,404.0 L1094.6,390.0 L1096.2,428.0 L1098.6,400.4 L1100.9,370.0 L1103.0,352.8 L1105.1,344.6 L1107.2,331.0 L1109.2,320.4 L1111.2,313.0 L1113.6,325.5 L1116.8,379.7 L1119.9,403.8 L1121.3,408.5 L1123.5,414.6 L1125.4,418.2 L1127.3,422.1 L1130.3,428.1 L1133.3,438.6 L1136.3,447.6 L1139.3,461.1 L1142.3,470.0 L1144.4,478.8 L1146.8,483.2 L1149.1,490.1 L1151.2,492.5 L1153.3,496.1 L1155.4,499.8 L1157.4,502.1 L1159.3,503.8 L1161.3,504.1 L1163.3,504.6 L1165.2,505.2 L1167.1,505.6 L1168.9,506.7 L1170.8,506.2 L1172.7,507.8 L1174.5,507.9 L1176.2,509.5 L1178.0,507.7 L1179.7,509.0 L1181.5,509.8 L1183.2,509.4 L1185.0,510.2 L1186.7,509.6 L1188.5,510.3 L1190.2,510.7 L1191.9,510.5 L1193.6,511.5 L1195.3,510.4 L1197.0,510.4 L1198.8,510.0 L1200.5,510.5 L1202.2,511.0 L1203.9,509.9 L1205.6,510.7 L1207.3,510.7 L1209.0,510.3 L1210.7,509.9 L1212.4,510.7 L1214.1,510.6 L1215.8,510.2 L1217.5,510.9 L1219.2,511.2 L1221.0,510.0 L1222.7,510.5 L1224.4,511.5 L1226.1,510.5 L1227.8,511.5 L1229.5,509.5 L1231.2,510.2 L1232.9,511.5 L1234.6,511.0 L1236.3,511.5 L1238.0,510.9 L1239.8,511.5 L1241.5,511.4 L1243.2,510.6 L1244.9,510.4 L1246.6,511.5 L1248.3,511.2 L1250.0,511.2 L1251.7,511.3 L1253.4,511.3 L1255.1,511.2 L1256.8,511.2 L1258.5,511.2 L1260.2,511.1 L1261.9,510.7 L1263.6,511.5 L1265.3,511.0 L1267.0,510.9 L1268.8,511.5 L1270.5,510.8 L1272.2,511.5 L1273.9,511.2 L1275.6,510.9 L1277.3,510.9 L1279.0,510.1 L1280.7,511.0 L1282.4,511.5 L1284.1,510.7 L1285.8,510.8 L1287.5,511.4 L1289.2,510.3 L1290.9,510.4 L1292.6,510.8 L1294.3,511.5 L1296.0,510.7 L1297.7,511.5 L1299.4,510.6 L1301.1,510.4 L1302.8,511.1 L1304.5,511.5 L1306.2,510.7 L1308.0,511.5 L1309.7,511.2 L1311.4,511.5 L1313.1,511.0 L1314.8,511.5 L1316.5,510.9 L1318.2,511.5 L1319.9,511.5 L1321.6,510.9 L1323.3,511.2 L1325.0,511.2 L1326.7,511.1 L1328.4,511.1 L1330.1,509.8 L1331.8,510.1 L1333.5,511.5 L1335.2,510.3 L1336.9,511.3 L1338.6,510.8 L1340.3,510.4 L1342.0,511.0 L1343.8,511.5 L1345.5,511.5 L1347.2,511.5 L1348.9,510.6 L1350.6,511.5 L1352.3,511.5 L1354.0,511.5 L1355.7,511.5 L1357.4,511.5 L1359.1,511.0 L1360.8,510.3 L1362.5,511.5 L1364.2,510.3 L1365.9,510.8 L1367.6,510.8 L1369.3,511.5 L1371.0,511.5 L1372.7,511.5 L1374.4,511.5 L1376.1,511.5 L1377.8,511.5 L1379.5,511.5 L1381.2,511.5 L1383.0,511.5 L1384.7,510.4 L1386.4,510.5 L1388.1,511.5 L1389.8,511.0 L1391.5,510.7 L1393.2,511.5 L1394.9,511.4 L1396.6,510.9 L1398.3,510.9 L1400.0,511.2 L1401.8,511.0 L1403.6,510.9 L1405.4,510.1 L1407.1,510.5 L1408.9,511.5 L1410.7,509.9 L1412.5,511.1 L1414.3,511.5 L1416.1,511.5 L1417.9,509.4 L1419.6,509.8 L1421.4,510.4 L1423.2,509.9 L1425.0,509.4 L1426.9,508.5 L1428.8,509.2 L1430.7,508.5 L1432.6,507.3 L1435.0,505.5 L1437.4,504.5 L1439.3,502.1 L1441.3,498.5 L1443.2,495.4 L1445.1,488.7 L1447.0,482.5 L1449.0,477.0 L1451.8,471.0 L1454.3,459.5 L1456.6,449.5 L1459.5,455.7 L1462.4,459.5 L1464.3,459.6 L1466.2,456.6 L1469.1,457.6 L1471.0,457.5 L1473.0,453.8 L1474.9,452.3 L1476.8,449.0 L1478.7,451.8 L1480.6,452.4 L1482.5,450.9 L1484.5,452.6 L1486.4,450.9 L1489.3,447.0 L1492.1,442.2 L1494.1,433.6 L1496.9,434.6 L1499.8,436.5 L1502.7,434.6 L1504.6,447.0 L1507.5,446.1 L1510.4,454.7 L1513.3,457.6 L1515.8,450.9 L1519.0,456.6 L1521.0,459.0 L1522.9,458.6 L1524.8,457.6 L1526.7,460.5 L1528.6,464.6 L1530.5,469.1 L1532.5,472.5 L1534.4,475.9 L1536.3,476.5 L1538.2,478.9 L1541.1,477.9 L1544.0,487.7 L1546.9,485.7 L1549.7,491.7 L1551.7,493.6 L1553.6,496.6 L1555.5,499.7 L1557.4,500.5 L1559.3,500.2 L1561.3,501.7 L1563.2,501.5 L1565.1,502.8 L1567.0,502.8 L1568.9,504.5 L1570.8,504.5 L1572.8,505.0 L1574.7,505.4 L1576.6,505.9 L1578.6,505.8 L1580.5,506.7 L1582.4,505.4 L1584.3,505.2 L1586.2,505.1 L1588.2,507.3 L1590.1,506.1 L1592.0,507.3 L1593.9,506.1 L1595.8,508.7 L1597.8,507.4 L1599.7,508.5 L1601.6,508.3 L1603.5,507.1 L1605.4,507.5 L1607.4,508.3 L1609.3,509.8 L1611.2,508.3 L1613.1,508.2 L1615.0,508.4 L1616.9,508.6 L1618.8,508.7 L1620.8,508.2 L1622.7,508.4 L1624.6,509.7 L1626.5,509.4"/>
<path class="c" stroke="#ff0000" d="M951.3,511.1 L953.0,511.5 L954.8,511.1 L956.5,510.9 L958.3,511.5 L960.0,511.5 L961.8,511.1 L963.5,511.0 L965.3,510.4 L967.0,511.2 L968.8,510.4 L970.5,510.5 L972.3,511.5 L974.0,510.9 L975.8,510.7 L977.5,511.2 L979.3,510.2 L981.0,510.5 L982.8,510.9 L984.5,510.3 L986.3,510.7 L988.0,510.9 L989.8,511.0 L991.5,510.3 L993.4,510.4 L995.3,509.7 L997.2,508.6 L999.1,509.6 L1001.0,509.5 L1003.4,508.5 L1005.7,506.2 L1008.9,498.1 L1012.0,486.9 L1014.4,480.4 L1016.7,486.9 L1019.1,474.0 L1021.5,477.3 L1023.8,470.8 L1026.2,472.4 L1028.5,466.8 L1031.7,468.4 L1034.9,461.3 L1037.2,457.4 L1039.6,459.7 L1042.7,467.6 L1045.9,474.0 L1048.2,470.8 L1051.4,470.8 L1054.5,477.3 L1056.9,482.8 L1059.3,486.9 L1061.7,490.0 L1064.0,491.7 L1066.3,493.6 L1068.7,497.4 L1071.9,498.9 L1074.2,497.0 L1076.6,494.9 L1078.9,488.9 L1081.3,483.7 L1084.5,467.6 L1086.1,455.0 L1087.4,440.1 L1089.0,423.6 L1091.2,399.5 L1092.7,389.0 L1094.2,385.0 L1095.5,398.0 L1098.0,384.2 L1100.0,372.2 L1102.1,360.1 L1105.1,340.1 L1108.1,320.0 L1110.5,313.5 L1113.1,324.0 L1116.1,360.1 L1118.2,395.0 L1119.7,404.0 L1122.0,399.5 L1125.0,410.1 L1126.9,413.8 L1128.8,417.6 L1130.5,421.8 L1132.3,424.8 L1134.0,425.1 L1135.9,429.4 L1137.8,437.1 L1140.0,442.5 L1142.3,449.1 L1142.8,455.0 L1146.0,470.8 L1149.1,482.1 L1151.4,488.2 L1153.8,493.3 L1155.9,496.0 L1158.0,498.1 L1160.1,501.4 L1162.1,502.3 L1164.0,503.7 L1166.0,505.7 L1168.0,506.2 L1169.8,506.2 L1171.6,506.6 L1173.4,508.5 L1175.2,508.2 L1177.0,507.3 L1178.8,509.1 L1180.6,509.5 L1182.4,509.6 L1184.1,509.9 L1185.9,510.7 L1187.6,509.8 L1189.4,510.8 L1191.1,510.7 L1192.9,510.7 L1194.6,510.2 L1196.4,510.7 L1198.1,510.9 L1199.9,510.4 L1201.6,510.7 L1203.3,510.7 L1205.0,510.9 L1206.8,510.7 L1208.5,511.1 L1210.2,510.2 L1211.9,511.5 L1213.7,510.9 L1215.4,510.6 L1217.1,509.9 L1218.8,511.5 L1220.6,511.5 L1222.3,511.5 L1224.0,511.1 L1225.8,511.2 L1227.5,511.1 L1229.2,511.5 L1230.9,510.1 L1232.7,510.8 L1234.4,510.9 L1236.1,511.5 L1237.8,509.9 L1239.6,510.3 L1241.3,510.7 L1243.0,510.9 L1244.7,509.8 L1246.5,511.5 L1248.2,511.5 L1249.9,511.2 L1251.7,510.6 L1253.4,511.1 L1255.1,511.0 L1256.8,511.3 L1258.6,511.2 L1260.3,510.7 L1262.0,510.9 L1263.7,510.5 L1265.5,510.8 L1267.2,510.3 L1268.9,510.2 L1270.6,511.5 L1272.4,511.0 L1274.1,510.4 L1275.8,511.2 L1277.6,511.1 L1279.3,510.9 L1281.0,510.4 L1282.7,510.9 L1284.5,510.8 L1286.2,511.5 L1287.9,510.7 L1289.6,511.5 L1291.4,511.4 L1293.1,511.0 L1294.8,510.9 L1296.5,511.5 L1298.3,510.6 L1300.0,511.1 L1301.7,509.8 L1303.4,511.5 L1305.2,510.4 L1306.9,511.2 L1308.6,511.5 L1310.3,511.5 L1312.1,511.4 L1313.8,511.1 L1315.5,511.1 L1317.2,511.0 L1319.0,510.9 L1320.7,511.3 L1322.4,510.9 L1324.1,510.8 L1325.9,511.2 L1327.6,510.6 L1329.3,511.0 L1331.0,511.2 L1332.8,511.5 L1334.5,511.5 L1336.2,511.5 L1337.9,510.4 L1339.7,510.8 L1341.4,510.8 L1343.1,511.5 L1344.8,511.5 L1346.6,511.4 L1348.3,510.4 L1350.0,510.6 L1351.7,511.2 L1353.4,511.0 L1355.2,510.9 L1356.9,511.1 L1358.6,511.5 L1360.3,511.1 L1362.1,511.5 L1363.8,510.6 L1365.5,511.5 L1367.2,510.2 L1369.0,511.0 L1370.7,511.5 L1372.4,510.8 L1374.1,511.2 L1375.9,511.5 L1377.6,511.2 L1379.3,511.5 L1381.0,511.3 L1382.8,510.7 L1384.5,510.6 L1386.2,511.2 L1387.9,511.3 L1389.7,511.5 L1391.4,510.9 L1393.1,511.5 L1394.8,510.8 L1396.6,511.4 L1398.3,511.5 L1400.0,511.1 L1401.7,511.1 L1403.5,511.5 L1405.2,510.8 L1407.0,511.1 L1408.7,510.6 L1410.5,510.6 L1412.2,510.7 L1414.0,510.2 L1415.7,510.3 L1417.5,510.7 L1419.2,510.3 L1421.1,509.8 L1423.0,509.1 L1425.0,507.6 L1426.9,507.3 L1428.8,506.4 L1430.7,505.0 L1432.7,502.6 L1434.6,500.5 L1436.5,496.4 L1438.4,490.7 L1441.3,477.0 L1444.2,457.6 L1447.0,434.6 L1449.5,405.0 L1452.7,368.2 L1454.5,349.7 L1456.2,328.4 L1458.1,309.7 L1460.9,326.1 L1462.7,327.3 L1464.4,324.9 L1466.2,329.5 L1467.9,330.8 L1469.7,330.8 L1471.4,327.3 L1473.8,322.9 L1476.1,316.8 L1478.4,306.2 L1480.2,307.9 L1481.9,312.1 L1484.3,309.7 L1486.0,301.7 L1487.8,300.4 L1489.5,298.2 L1491.3,293.4 L1493.0,291.0 L1494.8,286.4 L1496.5,288.4 L1498.3,285.2 L1500.6,285.2 L1503.0,305.1 L1504.8,313.2 L1506.5,316.8 L1508.8,326.1 L1510.7,335.5 L1512.3,323.8 L1514.7,333.1 L1516.5,333.1 L1518.2,330.8 L1520.5,340.1 L1521.0,363.5 L1522.9,337.8 L1524.7,342.0 L1526.4,344.8 L1528.2,351.0 L1529.9,358.8 L1532.2,368.4 L1534.5,375.2 L1536.8,384.4 L1539.2,396.2 L1541.0,403.0 L1543.0,411.5 L1545.4,420.6 L1547.8,426.9 L1549.8,432.0 L1551.7,438.4 L1553.6,444.0 L1555.5,449.9 L1557.4,455.7 L1559.3,461.4 L1561.2,465.4 L1563.2,468.6 L1565.1,473.1 L1567.0,477.1 L1569.0,478.9 L1570.9,482.8 L1572.8,485.3 L1574.7,487.4 L1576.6,490.4 L1578.5,492.6 L1580.4,495.0 L1582.3,495.4 L1584.3,496.8 L1586.2,499.4 L1588.1,499.6 L1590.0,499.8 L1592.0,501.9 L1593.9,502.3 L1595.8,503.7 L1597.8,504.7 L1599.7,505.4 L1601.6,505.2 L1603.5,505.5 L1605.5,506.7 L1607.4,507.7 L1609.3,508.4 L1611.2,508.3 L1613.1,508.9 L1615.0,509.2 L1616.9,509.7 L1618.8,509.8 L1620.8,509.0 L1622.7,509.4 L1624.6,510.1 L1626.5,510.3"/>
<path class="c" stroke="#0000ff" d="M951.3,510.9 L953.0,510.6 L954.7,510.7 L956.4,511.0 L958.1,510.4 L959.8,510.3 L961.5,510.2 L963.2,510.5 L964.9,510.7 L966.6,510.3 L968.3,510.5 L970.0,510.4 L971.8,510.0 L973.5,509.1 L975.2,508.9 L977.0,507.8 L979.2,507.5 L981.4,507.3 L983.6,506.2 L985.6,506.8 L987.5,505.8 L989.5,507.1 L991.5,506.6 L993.6,507.2 L995.7,505.7 L997.8,506.0 L1000.1,506.2 L1002.5,505.3 L1005.5,503.9 L1007.0,500.7 L1009.0,488.4 L1011.0,477.2 L1012.5,470.0 L1014.4,467.6 L1016.7,459.7 L1017.6,452.1 L1020.6,435.6 L1023.6,428.1 L1026.6,419.1 L1028.8,410.1 L1031.1,413.1 L1033.4,405.5 L1034.9,374.2 L1036.8,375.3 L1038.2,376.4 L1039.1,374.2 L1040.0,390.9 L1041.4,382.8 L1042.7,383.9 L1044.1,403.8 L1045.5,389.9 L1046.9,401.9 L1048.2,388.8 L1049.6,381.8 L1051.0,373.9 L1052.8,364.8 L1054.2,373.9 L1056.0,386.8 L1057.9,407.9 L1059.7,399.8 L1061.1,387.5 L1063.4,410.1 L1065.7,401.0 L1067.2,425.1 L1068.7,447.6 L1070.9,464.1 L1072.5,472.0 L1075.0,478.0 L1077.4,474.5 L1079.8,470.8 L1083.0,466.0 L1084.8,463.4 L1086.7,459.6 L1089.7,453.6 L1092.7,434.1 L1095.0,447.6 L1097.2,429.6 L1099.5,416.1 L1101.7,398.0 L1103.3,360.1 L1105.9,358.2 L1107.6,337.0 L1109.9,329.4 L1111.6,340.8 L1113.4,316.6 L1115.8,331.9 L1118.1,364.9 L1120.0,385.0 L1120.8,394.5 L1122.6,383.0 L1125.2,381.2 L1127.0,377.3 L1128.7,369.6 L1131.3,379.2 L1134.0,379.2 L1134.8,384.5 L1137.8,392.0 L1140.0,392.0 L1142.3,398.0 L1143.8,393.5 L1146.0,392.0 L1147.5,410.1 L1149.8,432.6 L1152.8,452.1 L1155.4,470.8 L1158.6,483.7 L1160.9,486.5 L1163.3,488.5 L1165.7,492.8 L1168.0,496.6 L1170.1,497.7 L1172.2,500.2 L1174.3,501.4 L1176.4,502.3 L1178.5,503.6 L1180.6,503.8 L1182.6,504.5 L1184.5,505.4 L1186.5,504.2 L1188.5,505.4 L1190.5,506.4 L1192.5,506.0 L1194.4,505.9 L1196.4,507.0 L1198.1,507.0 L1199.9,507.3 L1201.6,507.3 L1203.4,508.3 L1205.1,507.5 L1206.9,508.1 L1208.6,508.1 L1210.4,508.6 L1212.1,508.7 L1213.8,508.6 L1215.5,508.8 L1217.2,508.5 L1218.9,509.0 L1220.6,508.7 L1222.3,508.5 L1224.0,508.8 L1225.7,508.7 L1227.4,508.5 L1229.1,508.6 L1230.8,509.3 L1232.6,508.7 L1234.3,509.6 L1236.0,508.8 L1237.7,509.0 L1239.4,508.4 L1241.1,509.3 L1242.8,509.2 L1244.5,509.0 L1246.2,509.3 L1247.9,508.9 L1249.6,508.8 L1251.3,508.2 L1253.0,509.2 L1254.7,509.4 L1256.4,508.0 L1258.1,508.7 L1259.8,509.4 L1261.5,509.5 L1263.2,509.2 L1264.9,508.6 L1266.6,509.3 L1268.3,509.0 L1270.1,509.3 L1271.8,509.2 L1273.5,508.9 L1275.2,509.3 L1276.9,509.3 L1278.6,508.8 L1280.3,509.1 L1282.0,508.7 L1283.7,508.9 L1285.4,508.6 L1287.1,509.2 L1288.8,509.3 L1290.5,509.7 L1292.3,509.4 L1294.0,509.3 L1295.7,509.4 L1297.4,509.7 L1299.1,509.5 L1300.8,509.1 L1302.6,509.4 L1304.3,509.9 L1306.0,508.9 L1307.7,509.2 L1309.4,510.1 L1311.2,509.3 L1312.9,509.1 L1314.6,509.6 L1316.3,509.0 L1318.0,509.3 L1319.8,509.4 L1321.5,509.5 L1323.2,509.0 L1324.9,509.2 L1326.6,509.2 L1328.3,509.1 L1330.1,509.7 L1331.8,509.2 L1333.5,509.3 L1335.2,509.8 L1336.9,509.3 L1338.7,509.3 L1340.4,508.7 L1342.1,509.5 L1343.8,509.3 L1345.5,509.4 L1347.3,509.9 L1349.0,509.1 L1350.7,509.9 L1352.4,509.8 L1354.1,510.0 L1355.8,509.3 L1357.6,510.2 L1359.3,509.9 L1361.0,509.2 L1362.7,509.5 L1364.4,509.9 L1366.2,509.5 L1367.9,509.9 L1369.6,510.1 L1371.3,509.6 L1373.0,509.1 L1374.8,510.2 L1376.5,510.1 L1378.2,510.1 L1379.9,509.9 L1381.6,509.6 L1383.3,509.3 L1385.1,509.1 L1386.8,510.0 L1388.5,509.6 L1390.2,509.3 L1391.9,509.5 L1393.7,510.3 L1395.4,510.1 L1397.1,509.9 L1400.0,510.2 L1401.7,510.0 L1403.5,509.9 L1405.2,510.0 L1407.0,509.5 L1408.7,510.1 L1410.5,509.5 L1412.2,510.1 L1414.0,509.6 L1415.7,510.2 L1417.5,509.4 L1419.2,509.4 L1421.1,508.4 L1423.0,507.2 L1425.0,506.3 L1426.9,505.8 L1428.8,504.5 L1430.7,501.0 L1432.7,499.2 L1434.6,496.6 L1436.5,489.4 L1438.4,480.8 L1441.3,457.6 L1444.2,428.8 L1446.7,405.0 L1448.6,384.8 L1450.4,363.5 L1452.8,337.0 L1455.1,307.4 L1456.9,283.8 L1458.8,285.1 L1460.6,265.1 L1462.5,240.0 L1463.4,231.9 L1464.4,242.5 L1465.6,251.3 L1467.5,247.5 L1468.8,248.8 L1470.0,255.0 L1471.9,252.5 L1473.8,257.6 L1475.7,253.8 L1476.9,255.0 L1478.8,245.0 L1480.7,241.3 L1482.5,241.9 L1484.4,243.8 L1486.3,245.7 L1487.5,245.0 L1488.8,251.3 L1490.7,247.5 L1492.6,243.2 L1493.8,245.0 L1495.1,243.8 L1496.9,247.5 L1498.8,252.5 L1500.7,256.3 L1502.6,259.4 L1504.1,252.5 L1505.1,262.6 L1506.3,265.1 L1508.2,267.6 L1510.1,272.6 L1512.0,280.1 L1513.8,276.3 L1515.7,277.6 L1517.6,285.1 L1519.5,290.0 L1521.2,290.7 L1522.9,298.1 L1525.2,301.9 L1527.5,307.4 L1529.8,313.4 L1532.2,319.1 L1534.6,325.2 L1536.9,333.1 L1539.2,339.1 L1541.6,344.8 L1543.9,352.2 L1546.2,357.7 L1548.6,368.4 L1550.9,375.2 L1552.7,383.6 L1554.5,392.0 L1555.6,400.9 L1557.4,411.5 L1559.3,423.0 L1561.2,428.7 L1563.2,436.0 L1565.1,442.2 L1567.0,448.7 L1569.0,455.5 L1570.9,461.4 L1572.8,466.9 L1574.7,472.7 L1576.6,477.0 L1578.5,479.1 L1580.4,484.7 L1582.4,488.0 L1584.3,490.7 L1586.2,491.5 L1588.2,492.7 L1590.1,493.3 L1592.0,494.6 L1593.9,496.2 L1595.8,498.1 L1597.8,499.0 L1599.7,500.5 L1601.6,501.4 L1603.5,502.0 L1605.5,502.6 L1607.4,503.0 L1609.3,504.3 L1611.2,505.4 L1613.1,506.5 L1615.0,505.5 L1616.9,506.9 L1618.8,507.5 L1620.8,506.6 L1622.7,507.3 L1624.6,508.8 L1626.5,508.3"/>
<path class="c" stroke="#ff00ff" d="M951.3,510.9 L953.1,511.0 L954.9,510.6 L956.7,511.3 L958.5,510.8 L960.3,510.8 L962.1,511.2 L963.9,510.8 L965.6,510.8 L967.4,510.5 L969.2,510.6 L971.0,510.8 L972.8,510.6 L974.6,510.5 L976.4,510.6 L978.2,510.5 L980.0,510.5 L982.0,510.1 L984.0,510.2 L986.0,510.0 L988.0,509.4 L990.5,508.6 L993.0,507.8 L995.5,507.4 L998.0,505.8 L1000.0,505.0 L1002.0,502.7 L1004.5,497.6 L1006.0,488.4 L1007.3,478.8 L1008.9,455.0 L1010.2,340.4 L1012.0,354.4 L1013.8,370.7 L1015.7,355.2 L1017.5,356.6 L1020.5,297.2 L1022.1,253.1 L1023.4,209.0 L1023.9,181.0 L1024.7,180.3 L1026.3,209.0 L1029.1,253.1 L1031.4,300.8 L1032.2,328.2 L1034.0,321.4 L1035.0,329.5 L1036.8,353.8 L1038.7,368.1 L1040.5,378.0 L1041.1,382.9 L1043.2,367.4 L1045.1,362.2 L1046.9,352.5 L1048.8,355.9 L1050.6,359.3 L1053.3,363.3 L1053.6,380.0 L1056.6,410.1 L1059.6,422.1 L1061.9,425.1 L1063.8,431.5 L1065.7,440.1 L1068.7,459.6 L1071.7,468.7 L1075.0,471.5 L1077.4,468.7 L1079.8,467.0 L1083.0,452.0 L1084.2,444.2 L1085.5,378.0 L1088.2,324.1 L1090.1,349.8 L1092.8,359.3 L1094.7,395.7 L1096.6,378.0 L1098.3,360.6 L1100.6,352.2 L1102.9,345.8 L1104.7,328.2 L1107.5,333.6 L1110.2,313.3 L1112.1,318.8 L1113.9,353.8 L1115.8,378.0 L1117.3,395.1 L1119.0,388.4 L1120.8,381.0 L1122.5,375.4 L1124.3,375.8 L1126.0,377.3 L1127.8,374.6 L1130.5,373.2 L1132.2,386.1 L1133.3,401.0 L1135.5,413.1 L1138.5,407.0 L1140.8,395.0 L1143.0,398.0 L1145.3,410.1 L1148.3,432.6 L1151.3,452.1 L1153.5,472.0 L1155.2,480.9 L1157.0,489.4 L1159.1,493.2 L1161.2,497.1 L1163.3,501.4 L1165.2,502.5 L1167.1,503.5 L1168.9,503.9 L1170.8,505.6 L1172.7,506.2 L1174.5,506.9 L1176.2,507.0 L1178.0,507.3 L1179.7,507.9 L1181.5,507.6 L1183.2,508.3 L1185.0,509.0 L1186.7,508.9 L1188.5,509.5 L1190.2,509.3 L1192.0,509.7 L1193.7,509.8 L1195.4,509.5 L1197.1,509.9 L1198.9,509.4 L1200.6,509.8 L1202.3,510.0 L1204.1,509.5 L1205.8,510.1 L1207.5,510.0 L1209.2,510.0 L1211.0,510.6 L1212.7,510.3 L1214.4,510.1 L1216.2,510.1 L1217.9,510.0 L1219.6,509.9 L1221.4,510.5 L1223.1,509.9 L1224.8,509.9 L1226.5,510.6 L1228.3,510.4 L1230.0,510.4 L1231.8,510.1 L1233.5,510.3 L1235.3,509.9 L1237.1,509.6 L1238.8,509.3 L1240.5,509.7 L1242.3,509.8 L1244.0,509.3 L1245.7,509.7 L1247.4,509.6 L1249.2,509.2 L1250.9,509.9 L1252.6,509.3 L1254.3,510.1 L1256.1,509.6 L1257.8,509.5 L1259.5,510.2 L1261.2,509.6 L1263.0,509.9 L1264.7,509.4 L1266.4,509.7 L1268.1,509.7 L1269.9,509.5 L1271.6,510.0 L1273.3,509.4 L1275.0,509.7 L1276.8,509.1 L1278.5,509.2 L1280.2,509.6 L1281.9,509.4 L1283.7,509.6 L1285.4,509.7 L1287.1,509.8 L1288.8,509.4 L1290.5,509.5 L1292.3,510.1 L1294.0,509.6 L1295.7,509.5 L1297.4,509.5 L1299.2,510.0 L1300.9,509.8 L1302.6,509.5 L1304.3,509.7 L1306.1,509.7 L1307.8,509.9 L1309.5,509.8 L1311.2,509.6 L1313.0,509.5 L1314.7,509.4 L1316.4,509.7 L1318.1,509.5 L1319.9,509.7 L1321.6,509.8 L1323.3,509.7 L1325.0,509.7 L1326.8,509.7 L1328.5,509.5 L1330.2,509.5 L1331.9,510.2 L1333.7,510.0 L1335.4,509.8 L1337.1,509.8 L1338.9,509.4 L1340.6,509.4 L1342.4,509.2 L1344.2,509.6 L1345.9,509.9 L1347.7,509.8 L1349.5,509.9 L1351.2,509.9 L1353.0,509.7 L1354.7,509.4 L1356.5,509.5 L1358.3,509.7 L1360.0,509.8 L1361.8,509.4 L1363.6,509.6 L1365.3,510.0 L1367.1,509.5 L1368.9,509.1 L1370.6,509.2 L1372.4,509.6 L1374.2,509.0 L1375.9,509.3 L1377.7,508.9 L1379.5,510.3 L1381.2,509.7 L1383.0,509.1 L1384.7,509.4 L1386.5,508.6 L1388.3,509.5 L1390.0,508.9 L1391.8,509.2 L1393.6,509.1 L1395.3,509.1 L1397.1,508.9 L1400.0,508.9 L1401.7,508.6 L1403.5,508.1 L1405.2,507.9 L1407.0,507.6 L1408.7,507.7 L1410.5,506.7 L1412.2,506.5 L1414.0,506.2 L1415.7,505.9 L1417.5,505.8 L1419.2,505.4 L1421.1,503.7 L1423.0,502.4 L1425.0,501.4 L1426.9,499.9 L1428.8,498.5 L1430.7,493.6 L1432.7,489.7 L1434.6,484.8 L1437.5,455.0 L1439.0,430.0 L1441.3,405.0 L1442.7,380.0 L1445.2,351.8 L1447.2,332.2 L1449.2,312.1 L1451.0,288.8 L1452.7,270.0 L1453.8,232.0 L1455.0,224.0 L1456.9,227.0 L1458.2,210.0 L1459.2,182.6 L1461.4,149.2 L1463.1,158.5 L1464.9,176.9 L1466.8,164.9 L1468.2,186.9 L1469.9,185.5 L1472.7,203.9 L1475.3,181.9 L1477.0,215.3 L1479.1,196.8 L1480.5,194.7 L1482.7,194.0 L1485.2,184.7 L1486.9,211.0 L1489.1,192.6 L1491.2,190.4 L1493.3,193.3 L1495.2,187.6 L1496.9,206.8 L1499.7,219.5 L1501.9,230.0 L1503.8,250.0 L1505.7,237.5 L1507.6,220.0 L1508.2,211.0 L1510.4,208.2 L1511.8,219.5 L1513.9,201.1 L1515.3,219.5 L1517.5,222.4 L1519.6,224.0 L1521.3,235.0 L1523.8,243.8 L1525.7,255.0 L1527.6,267.6 L1529.5,245.0 L1531.4,243.8 L1533.2,262.6 L1535.1,267.6 L1536.4,265.1 L1537.6,283.8 L1538.9,290.0 L1540.8,292.7 L1542.7,293.4 L1544.5,301.0 L1546.2,309.7 L1548.0,316.2 L1549.7,316.8 L1551.5,330.0 L1553.2,344.8 L1555.0,362.5 L1556.7,375.2 L1559.3,400.0 L1561.2,410.1 L1563.2,419.2 L1565.1,426.9 L1567.0,435.8 L1568.9,444.2 L1570.8,451.0 L1572.8,457.2 L1574.7,463.4 L1576.6,468.0 L1578.6,471.8 L1580.5,477.0 L1582.4,479.9 L1584.3,483.2 L1586.2,486.8 L1588.1,488.1 L1590.1,489.7 L1592.0,490.7 L1593.9,492.5 L1595.8,494.1 L1597.8,495.4 L1599.7,496.6 L1601.6,497.4 L1603.5,498.4 L1605.5,499.7 L1607.4,500.8 L1609.3,501.1 L1611.2,502.4 L1613.1,502.4 L1615.0,503.5 L1616.9,503.7 L1618.8,504.3 L1620.8,505.0 L1622.7,505.1 L1624.6,505.5 L1626.5,506.4"/>
<path class="c" stroke="#008000" d="M951.3,510.9 L953.0,510.9 L954.8,510.7 L956.5,509.9 L958.3,511.2 L960.0,510.7 L961.8,511.5 L963.5,510.9 L965.3,510.7 L967.0,511.1 L968.8,511.2 L970.5,510.5 L972.3,510.2 L974.0,511.5 L975.8,510.7 L977.6,510.5 L979.5,509.8 L981.3,509.9 L983.2,509.8 L985.0,509.5 L987.5,508.8 L990.0,507.8 L992.4,506.1 L994.7,504.8 L997.0,503.0 L999.4,500.2 L1002.5,492.5 L1004.1,480.2 L1005.7,462.9 L1006.5,455.0 L1007.1,425.1 L1008.1,400.0 L1008.7,338.1 L1010.7,333.1 L1013.1,342.1 L1015.5,333.1 L1017.1,338.1 L1019.3,290.0 L1020.1,275.0 L1021.5,225.0 L1023.6,177.4 L1025.0,185.0 L1028.0,196.9 L1030.2,236.0 L1031.5,280.0 L1033.1,302.0 L1036.1,320.1 L1039.1,349.1 L1042.1,344.1 L1044.1,341.8 L1046.1,338.1 L1049.1,332.1 L1051.1,342.1 L1052.8,338.1 L1055.2,360.2 L1057.2,380.2 L1059.2,396.5 L1061.1,410.1 L1063.4,420.8 L1065.7,432.6 L1068.7,443.1 L1071.7,456.6 L1074.7,464.1 L1077.0,461.8 L1079.2,461.1 L1082.2,443.1 L1084.4,410.1 L1085.9,380.0 L1088.2,344.1 L1090.2,348.1 L1093.2,364.2 L1096.2,378.2 L1098.2,360.2 L1101.2,354.1 L1103.2,345.8 L1105.3,338.1 L1108.3,324.1 L1110.9,313.1 L1112.9,320.1 L1115.3,356.2 L1117.3,386.2 L1119.3,390.2 L1121.3,386.2 L1123.3,385.5 L1125.3,384.2 L1128.3,385.2 L1130.3,381.2 L1132.3,388.2 L1133.3,392.0 L1136.3,405.5 L1139.3,404.0 L1142.3,402.5 L1145.3,420.6 L1148.3,440.1 L1150.2,452.8 L1152.1,464.1 L1153.8,474.0 L1156.2,480.1 L1158.6,486.9 L1160.7,489.1 L1162.8,493.0 L1164.9,496.6 L1166.9,498.7 L1168.8,499.6 L1170.8,501.7 L1172.7,503.0 L1174.7,504.9 L1176.7,504.4 L1178.6,505.2 L1180.6,506.2 L1182.4,505.4 L1184.1,507.0 L1185.9,507.8 L1187.6,506.9 L1189.4,507.7 L1191.1,507.7 L1192.9,508.3 L1194.6,509.0 L1196.4,508.7 L1198.2,508.6 L1199.9,507.9 L1201.7,510.2 L1203.5,508.8 L1205.2,509.0 L1207.0,509.4 L1208.8,508.3 L1210.5,509.4 L1212.3,510.3 L1214.1,508.8 L1215.9,508.8 L1217.6,509.5 L1219.4,509.5 L1221.2,509.7 L1222.9,509.9 L1224.7,510.2 L1226.5,509.4 L1228.2,509.7 L1230.0,510.1 L1231.7,510.7 L1233.4,509.6 L1235.1,509.9 L1236.8,510.9 L1238.5,510.5 L1240.2,510.7 L1242.0,509.4 L1243.7,510.3 L1245.4,509.7 L1247.1,510.4 L1248.8,510.3 L1250.5,510.0 L1252.2,509.7 L1253.9,509.9 L1255.6,509.6 L1257.3,509.2 L1259.0,510.2 L1260.7,510.4 L1262.4,510.1 L1264.1,509.7 L1265.9,510.3 L1267.6,510.1 L1269.3,510.1 L1271.0,510.6 L1272.7,510.4 L1274.4,510.5 L1276.1,510.5 L1277.8,509.7 L1279.5,510.9 L1281.2,509.9 L1282.9,510.0 L1284.6,510.1 L1286.3,510.8 L1288.0,510.1 L1289.8,510.9 L1291.5,510.0 L1293.2,511.0 L1294.9,509.8 L1296.6,509.8 L1298.3,509.9 L1300.0,510.4 L1301.7,510.1 L1303.4,510.2 L1305.2,511.0 L1306.9,509.6 L1308.6,510.3 L1310.3,510.1 L1312.1,511.1 L1313.8,509.2 L1315.5,510.2 L1317.2,509.9 L1319.0,509.7 L1320.7,510.9 L1322.4,509.6 L1324.1,510.7 L1325.9,510.1 L1327.6,509.4 L1329.3,510.0 L1331.0,510.2 L1332.8,510.4 L1334.5,510.3 L1336.2,511.1 L1337.9,510.2 L1339.7,510.0 L1341.4,509.6 L1343.1,510.1 L1344.8,511.0 L1346.6,510.3 L1348.3,510.0 L1350.0,510.2 L1351.8,510.2 L1353.5,511.5 L1355.3,510.3 L1357.1,510.4 L1358.8,509.5 L1360.6,509.1 L1362.4,510.2 L1364.1,509.5 L1365.9,509.3 L1367.6,509.9 L1369.4,510.0 L1371.2,510.3 L1372.9,508.7 L1374.7,509.8 L1376.5,508.6 L1378.2,508.8 L1380.0,509.4 L1381.8,509.2 L1383.6,507.9 L1385.5,509.2 L1387.3,508.8 L1389.1,509.7 L1390.9,508.6 L1392.7,508.2 L1394.5,508.9 L1396.4,508.6 L1398.2,508.9 L1400.0,508.3 L1401.9,508.2 L1403.8,507.0 L1405.8,507.5 L1407.7,505.1 L1409.6,505.9 L1411.5,504.8 L1413.4,503.7 L1415.3,502.3 L1417.3,502.0 L1419.2,500.7 L1421.1,497.7 L1423.1,493.2 L1425.0,490.4 L1427.4,482.1 L1429.8,475.1 L1432.6,457.6 L1435.5,428.8 L1438.4,405.0 L1440.3,377.6 L1442.2,351.8 L1444.0,333.5 L1445.7,309.7 L1448.0,280.0 L1450.4,233.5 L1453.7,155.0 L1455.8,118.4 L1458.0,104.2 L1459.5,105.3 L1461.3,65.2 L1463.4,72.8 L1465.6,90.1 L1468.2,49.3 L1470.4,81.4 L1473.2,88.0 L1476.0,80.4 L1478.2,78.2 L1480.1,66.3 L1481.9,99.9 L1483.6,68.4 L1485.6,36.9 L1487.7,46.7 L1489.5,45.6 L1491.6,61.9 L1493.8,54.3 L1496.0,68.4 L1497.7,72.8 L1499.2,101.0 L1501.0,77.1 L1502.9,90.1 L1504.7,106.4 L1507.3,91.2 L1510.1,118.4 L1512.9,108.6 L1515.5,127.0 L1517.7,120.5 L1520.3,146.6 L1522.5,126.0 L1524.2,158.0 L1527.5,175.0 L1529.8,180.0 L1532.2,179.7 L1534.5,196.1 L1536.2,204.6 L1538.0,210.1 L1540.2,226.5 L1542.6,238.2 L1544.4,251.5 L1546.2,263.9 L1547.4,270.0 L1548.5,280.0 L1549.7,284.0 L1551.5,295.3 L1553.2,309.7 L1555.0,327.9 L1556.7,344.8 L1558.5,361.0 L1560.3,377.5 L1562.0,381.8 L1563.8,386.9 L1565.1,400.0 L1567.3,410.0 L1568.9,419.2 L1570.8,428.1 L1572.8,438.4 L1574.7,441.0 L1576.6,445.0 L1578.5,449.9 L1580.4,456.9 L1582.4,462.7 L1584.3,469.1 L1586.2,471.0 L1588.2,475.6 L1590.1,477.0 L1592.0,479.2 L1593.9,482.2 L1595.8,484.8 L1597.7,487.2 L1599.7,488.7 L1601.6,490.8 L1603.5,492.6 L1605.4,493.6 L1607.3,494.6 L1609.3,494.6 L1611.2,496.6 L1613.1,497.0 L1615.1,498.9 L1617.0,498.1 L1618.9,499.6 L1620.8,500.8 L1622.7,500.4 L1624.6,500.9 L1626.5,501.5"/>
<rect x="304.7" y="29.5" width="260.5" height="164.3" fill="none" stroke="#383838" stroke-width="1.4"/>
<path class="lg" stroke="#000" d="M315.2,47.3 H375.2"/>
<text class="lt" transform="translate(383.0,56.3) scale(1,1.04)">SLA:Er</text>
<path class="lg" stroke="#ff0000" d="M315.2,80.1 H375.2"/>
<text class="lt" transform="translate(383.0,89.1) scale(1,1.04)">SLA:Er/Yb0.02</text>
<path class="lg" stroke="#0000ff" d="M315.2,112.9 H375.2"/>
<text class="lt" transform="translate(383.0,121.9) scale(1,1.04)">SLA:Er/Yb0.04</text>
<path class="lg" stroke="#ff00ff" d="M315.2,145.8 H375.2"/>
<text class="lt" transform="translate(383.0,154.8) scale(1,1.04)">SLA:Er/Yb0.1</text>
<path class="lg" stroke="#008000" d="M315.2,178.6 H375.2"/>
<text class="lt" transform="translate(383.0,187.6) scale(1,1.04)">SLA:Er/Yb0.2</text>
<rect x="1143.5" y="51.7" width="260.5" height="164.3" fill="none" stroke="#383838" stroke-width="1.4"/>
<path class="lg" stroke="#000" d="M1154.0,69.5 H1214.0"/>
<text class="lt" transform="translate(1221.8,78.5) scale(1,1.04)">SLA:Er</text>
<path class="lg" stroke="#ff0000" d="M1154.0,102.3 H1214.0"/>
<text class="lt" transform="translate(1221.8,111.3) scale(1,1.04)">SLA:Er/Yb0.02</text>
<path class="lg" stroke="#0000ff" d="M1154.0,135.1 H1214.0"/>
<text class="lt" transform="translate(1221.8,144.1) scale(1,1.04)">SLA:Er/Yb0.04</text>
<path class="lg" stroke="#ff00ff" d="M1154.0,168.0 H1214.0"/>
<text class="lt" transform="translate(1221.8,177.0) scale(1,1.04)">SLA:Er/Yb0.1</text>
<path class="lg" stroke="#008000" d="M1154.0,200.8 H1214.0"/>
<text class="lt" transform="translate(1221.8,209.8) scale(1,1.04)">SLA:Er/Yb0.2</text>
<text class="pl" x="226.5" y="64">(a)</text>
<text class="pl" x="980" y="82.5">(b)</text>
<text class="at" transform="translate(29.8,438.0) rotate(-90) scale(1,1.04)">Intensity (x10<tspan class="sup" dy="-12">12</tspan><tspan dy="12">, arb. units)</tspan></text>
<text class="at" transform="translate(902.2,401.0) rotate(-90) scale(1,1.04)">Normalized intensity</text>
</svg>
</body></html>
